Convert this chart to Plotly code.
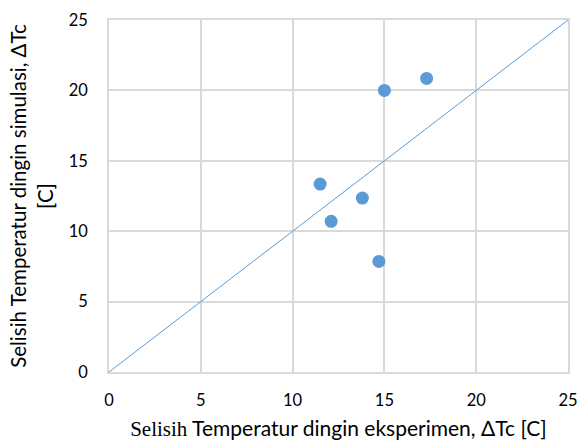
import plotly.graph_objects as go

exp_dtc = [15.0, 17.3, 11.5, 13.8, 12.1, 14.7]
sim_dtc = [20.0, 20.85, 13.35, 12.35, 10.7, 7.85]
line_x = [0, 25]
line_y = [0, 25]
tick_vals = [0, 5, 10, 15, 20, 25]

blue = "#5B9BD5"
grid = "#D9D9D9"
sans = "Lato, 'Open Sans', sans-serif"

fig = go.Figure()
fig.add_trace(go.Scatter(x=line_x, y=line_y, mode="lines",
                         line=dict(color=blue, width=1), hoverinfo="skip"))
fig.add_trace(go.Scatter(x=exp_dtc, y=sim_dtc, mode="markers",
                         marker=dict(color=blue, size=13, line=dict(width=0))))

axis_common = dict(range=[0, 25], tickvals=tick_vals, showgrid=True,
                   gridcolor=grid, gridwidth=1.5, zeroline=False,
                   showline=True, linecolor=grid, linewidth=1.5, mirror=True,
                   ticks="", automargin=False, ticklabeloverflow="allow",
                   tickfont=dict(family=sans, size=16.5, color="#000"))

fig.update_xaxes(**axis_common, ticklabelstandoff=12,
                 title=dict(text='<span style="font-family:Liberation Serif">Selisih</span> Temperatur dingin eksperimen, ΔTc [C]',
                            font=dict(family=sans, size=21, color="#000"), standoff=14))
fig.update_yaxes(**axis_common, ticklabelstandoff=16,
                 title=dict(text="Selisih Temperatur dingin simulasi, ΔTc<br>[C]",
                            font=dict(family=sans, size=20.5, color="#000"), standoff=10))

fig.update_layout(width=577, height=441, showlegend=False,
                  margin=dict(l=109, r=9, t=20, b=69),
                  paper_bgcolor="white", plot_bgcolor="white")

# remove the default page margin so the figure fills the window exactly
fig.write_html("out.html", config={"displayModeBar": False},
               post_script="document.body.style.margin='0';document.body.style.overflow='hidden';")
